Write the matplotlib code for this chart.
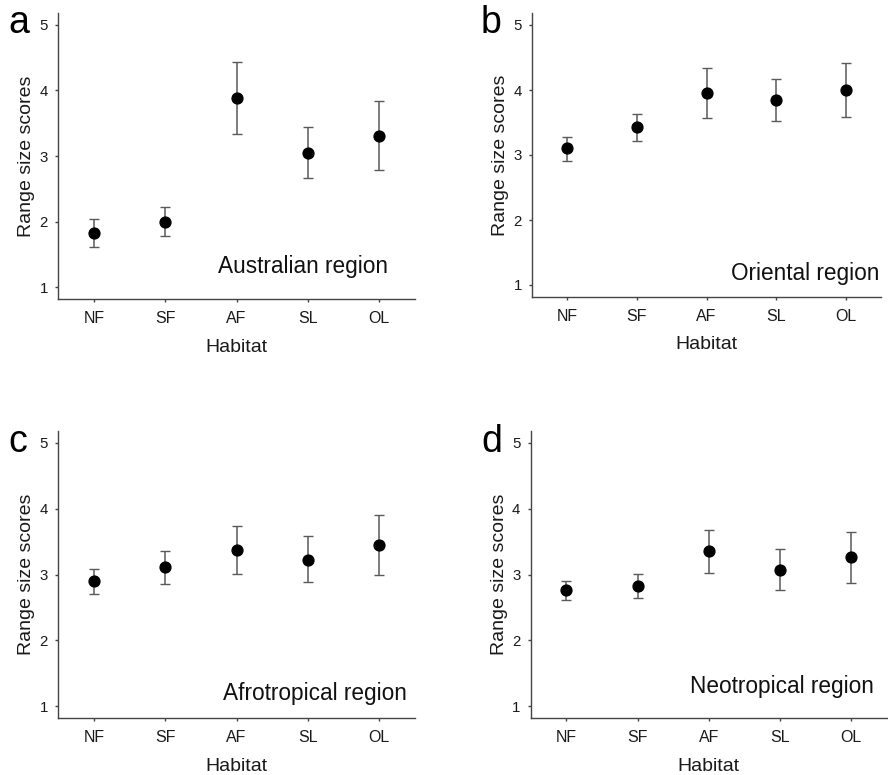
import matplotlib
matplotlib.use("Agg")
import matplotlib.pyplot as plt

plt.rcParams['font.family'] = ['Liberation Sans', 'DejaVu Sans']

habitats = ["NF", "SF", "AF", "SL", "OL"]
yticks = [1, 2, 3, 4, 5]

regions = ["Australian region", "Oriental region", "Afrotropical region", "Neotropical region"]
panel_letters = ["a", "b", "c", "d"]

aus_mean = [1.83, 2.00, 3.88, 3.05, 3.31]
aus_low = [1.61, 1.78, 3.34, 2.67, 2.79]
aus_high = [2.04, 2.23, 4.43, 3.44, 3.83]

ori_mean = [3.10, 3.43, 3.95, 3.85, 4.00]
ori_low = [2.91, 3.21, 3.57, 3.52, 3.58]
ori_high = [3.28, 3.63, 4.34, 4.17, 4.42]

afr_mean = [2.90, 3.11, 3.37, 3.22, 3.45]
afr_low = [2.70, 2.85, 3.01, 2.88, 2.99]
afr_high = [3.09, 3.35, 3.74, 3.58, 3.90]

neo_mean = [2.76, 2.82, 3.35, 3.07, 3.26]
neo_low = [2.62, 2.64, 3.03, 2.76, 2.87]
neo_high = [2.90, 3.01, 3.68, 3.39, 3.65]

data = [(aus_mean, aus_low, aus_high), (ori_mean, ori_low, ori_high),
        (afr_mean, afr_low, afr_high), (neo_mean, neo_low, neo_high)]

W, H = 888, 775
fig = plt.figure(figsize=(W / 100, H / 100), dpi=100)

# axes boxes in pixels: left, top, right, bottom
boxes = [(58.3, 12.7, 415, 299.3), (532.3, 13.3, 880.7, 296.7),
         (58.3, 430.7, 415, 718.3), (530.7, 430.7, 887, 718.3)]
text_pos = [(0.925, 0.114), (0.995, 0.083), (0.978, 0.087), (0.963, 0.11)]
letter_pos = [(8, 33), (481, 33), (8, 452), (481, 452)]

for i, ((l, t, r, b), (m, lo, hi)) in enumerate(zip(boxes, data)):
    ax = fig.add_axes([l / W, 1 - b / H, (r - l) / W, (b - t) / H])
    x = list(range(len(habitats)))
    yerr = [[mm - ll for mm, ll in zip(m, lo)], [hh - mm for mm, hh in zip(m, hi)]]
    ax.errorbar(x, m, yerr=yerr, fmt='o', color='black', ms=7.8,
                ecolor='#5a5a5a', elinewidth=1.1, capsize=3.3, capthick=1.0)
    ax.set_xlim(-0.5, 4.5)
    ax.set_ylim(0.82, 5.18)
    ax.set_xticks(x)
    ax.set_xticklabels(habitats)
    ax.set_yticks(yticks)
    for s in ['top', 'right']:
        ax.spines[s].set_visible(False)
    for s in ['left', 'bottom']:
        ax.spines[s].set_color('#444444')
        ax.spines[s].set_linewidth(1.0)
    ax.tick_params(axis='both', direction='out', length=2.5, width=1.0,
                   color='#444444', labelcolor='#1a1a1a')
    ax.tick_params(axis='x', labelsize=11.5, pad=6)
    ax.tick_params(axis='y', labelsize=10.8, pad=5)
    ax.set_xlabel("Habitat", fontsize=14, color='#1a1a1a', labelpad=9)
    ax.set_ylabel("Range size scores", fontsize=14, color='#1a1a1a', labelpad=3)
    ax.text(text_pos[i][0], text_pos[i][1], regions[i], transform=ax.transAxes,
            ha='right', va='center', fontsize=16.3, color='#111111')
    fig.text(letter_pos[i][0] / W, 1 - letter_pos[i][1] / H, panel_letters[i],
             fontsize=27, ha='left', va='baseline', color='black')

fig.savefig("out.png", dpi=100, facecolor='white')
